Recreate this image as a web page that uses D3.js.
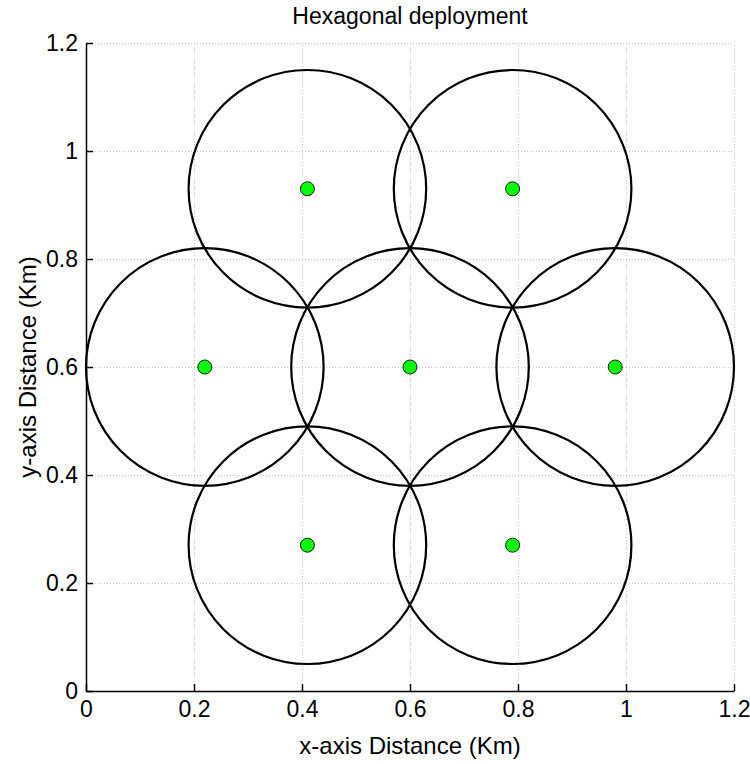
<!DOCTYPE html>
<html>
<head>
<meta charset="utf-8">
<script src="https://cdn.jsdelivr.net/npm/d3@7"></script>
<style>
  html, body { margin: 0; padding: 0; background: #fff; }
  svg { display: block; font-family: "Liberation Sans", Arial, Helvetica, sans-serif; }
</style>
</head>
<body>
<svg id="chart" width="750" height="764"></svg>
<script>
// Cell sites of the hexagonal layout (km)
const siteX = [0.6, 0.22, 0.98, 0.41, 0.79, 0.41, 0.79];
const siteY = [0.6, 0.6, 0.6, 0.93, 0.93, 0.27, 0.27];
// Coverage radius of every cell (km)
const cellRadius = [0.22, 0.22, 0.22, 0.22, 0.22, 0.22, 0.22];

const xTicks = [0, 0.2, 0.4, 0.6, 0.8, 1, 1.2];
const yTicks = [0, 0.2, 0.4, 0.6, 0.8, 1, 1.2];
const xTickLabels = ["0", "0.2", "0.4", "0.6", "0.8", "1", "1.2"];
const yTickLabels = ["0", "0.2", "0.4", "0.6", "0.8", "1", "1.2"];

const titleText = "Hexagonal deployment";
const xLabelText = "x-axis Distance (Km)";
const yLabelText = "y-axis Distance (Km)";

const margin = { left: 86, top: 43, right: 16, bottom: 73 };
const W = 750, H = 764;
const svg = d3.select("#chart");

const x = d3.scaleLinear().domain([0, 1.2]).range([margin.left, W - margin.right]);
const y = d3.scaleLinear().domain([0, 1.2]).range([H - margin.bottom, margin.top]);

// dotted grid
const grid = svg.append("g").attr("stroke", "#c8c8c8").attr("stroke-width", 1)
  .attr("stroke-dasharray", "1,2");
grid.selectAll("line.gx").data(xTicks.slice(1)).enter().append("line")
  .attr("x1", d => Math.round(x(d)) + 0.5).attr("x2", d => Math.round(x(d)) + 0.5)
  .attr("y1", y(0)).attr("y2", y(1.2));
grid.selectAll("line.gy").data(yTicks.slice(1)).enter().append("line")
  .attr("y1", d => Math.round(y(d)) + 0.5).attr("y2", d => Math.round(y(d)) + 0.5)
  .attr("x1", x(0)).attr("x2", x(1.2));

// coverage circles
const rPx = r => x(r) - x(0);
svg.append("g").selectAll("circle").data(siteX.map((d, i) => i)).enter().append("circle")
  .attr("cx", i => x(siteX[i])).attr("cy", i => y(siteY[i]))
  .attr("r", i => rPx(cellRadius[i]))
  .attr("fill", "none").attr("stroke", "#000").attr("stroke-width", 2.2);

// cell site markers
svg.append("g").selectAll("circle").data(siteX.map((d, i) => i)).enter().append("circle")
  .attr("cx", i => x(siteX[i])).attr("cy", i => y(siteY[i]))
  .attr("r", 7)
  .attr("fill", "#00ff00").attr("stroke", "#1a1a1a").attr("stroke-width", 1);

// axes (ticks point inward)
const xAxis = d3.axisBottom(x).tickValues(xTicks).tickFormat((d, i) => xTickLabels[i])
  .tickSizeInner(-7).tickSizeOuter(0).tickPadding(10);
const yAxis = d3.axisLeft(y).tickValues(yTicks).tickFormat((d, i) => yTickLabels[i])
  .tickSizeInner(-7).tickSizeOuter(0).tickPadding(8);

const gx = svg.append("g").attr("transform", `translate(0,${y(0)})`).call(xAxis);
const gy = svg.append("g").attr("transform", `translate(${x(0)},0)`).call(yAxis);
[gx, gy].forEach(g => {
  g.selectAll("path, line").attr("stroke", "#000").attr("stroke-width", 1.5);
  g.selectAll("text").attr("font-size", 23).attr("fill", "#000")
    .attr("font-family", "'Liberation Sans', Arial, sans-serif");
});
gx.selectAll("text").attr("dy", "0.71em");

// title and axis labels
svg.append("text").attr("x", (x(0) + x(1.2)) / 2).attr("y", 24)
  .attr("text-anchor", "middle").attr("font-size", 23).text(titleText);
svg.append("text").attr("x", (x(0) + x(1.2)) / 2).attr("y", 754)
  .attr("text-anchor", "middle").attr("font-size", 24).text(xLabelText);
svg.append("text")
  .attr("transform", `translate(36,${(y(0) + y(1.2)) / 2}) rotate(-90)`)
  .attr("text-anchor", "middle").attr("font-size", 24).text(yLabelText);
</script>
</body>
</html>
